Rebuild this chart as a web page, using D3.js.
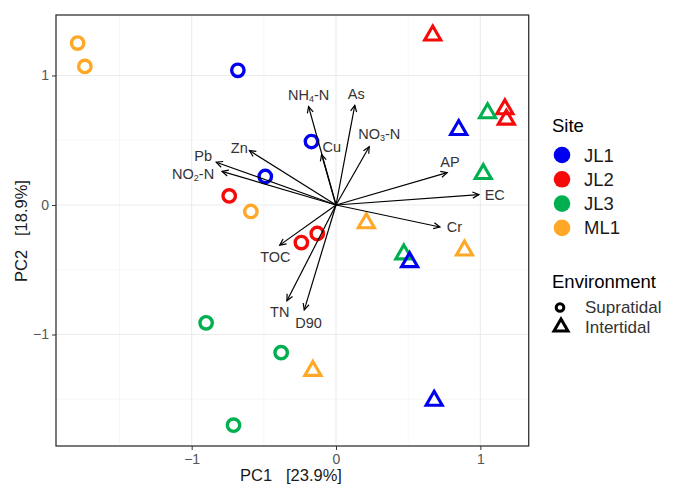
<!DOCTYPE html>
<html>
<head>
<meta charset="utf-8">
<script src="https://cdn.jsdelivr.net/npm/d3@7"></script>
<style>
  body { margin: 0; background: #fff; }
  text { font-family: "Liberation Sans", Arial, sans-serif; }
</style>
</head>
<body>
<div id="chart"></div>
<script>
const width = 677;
const height = 486;

// site / environment groups
const sites = ["JL1", "JL2", "JL3", "ML1"];
const siteColors = ["#0000f0", "#f50a0a", "#00b050", "#ffa726"];
const environments = ["Supratidal", "Intertidal"];

// sample scores
const sampleSite = ["ML1", "ML1", "JL1", "JL1", "JL1", "JL2", "JL2", "JL2", "ML1", "JL3", "JL3", "JL3",
                    "JL2", "JL2", "JL2", "JL3", "JL3", "JL3", "JL1", "JL1", "JL1", "ML1", "ML1", "ML1"];
const sampleEnv = ["Supratidal", "Supratidal", "Supratidal", "Supratidal", "Supratidal", "Supratidal",
                   "Supratidal", "Supratidal", "Supratidal", "Supratidal", "Supratidal", "Supratidal",
                   "Intertidal", "Intertidal", "Intertidal", "Intertidal", "Intertidal", "Intertidal",
                   "Intertidal", "Intertidal", "Intertidal", "Intertidal", "Intertidal", "Intertidal"];
const pc1 = [-1.79, -1.74, -0.68, -0.17, -0.49, -0.74, -0.24, -0.13, -0.59, -0.90, -0.38, -0.71,
             0.67, 1.17, 1.18, 1.05, 1.02, 0.47, 0.85, 0.51, 0.68, 0.21, 0.89, -0.16];
const pc2 = [1.25, 1.07, 1.04, 0.49, 0.22, 0.07, -0.29, -0.22, -0.05, -0.91, -1.14, -1.70,
             1.31, 0.74, 0.66, 0.71, 0.24, -0.38, 0.58, -0.44, -1.51, -0.14, -0.35, -1.28];

// variable loadings (arrow tips) and label anchors
const varNames = ["NH4-N", "Cu", "As", "NO3-N", "AP", "EC", "Cr", "Zn", "Pb", "NO2-N", "TOC", "TN", "D90"];
const loadPC1 = [-0.19, -0.10, 0.13, 0.23, 0.77, 0.99, 0.72, -0.60, -0.83, -0.79, -0.39, -0.34, -0.22];
const loadPC2 = [0.76, 0.39, 0.77, 0.45, 0.25, 0.08, -0.17, 0.42, 0.33, 0.26, -0.31, -0.74, -0.81];
const labelPC1 = [-0.19, -0.03, 0.14, 0.30, 0.79, 1.10, 0.82, -0.67, -0.92, -0.99, -0.42, -0.39, -0.19];
const labelPC2 = [0.85, 0.45, 0.86, 0.55, 0.33, 0.08, -0.17, 0.44, 0.375, 0.24, -0.40, -0.83, -0.91];

const xTicks = [-1, 0, 1];
const yTicks = [-1, 0, 1];

const svg = d3.select("#chart").append("svg")
    .attr("width", width).attr("height", height);

const x = d3.scaleLinear().domain([-1.94, 1.335]).range([56, 528.7]);
const y = d3.scaleLinear().domain([-1.861, 1.467]).range([446, 15]);
const colour = d3.scaleOrdinal().domain(sites).range(siteColors);

// grid
const minorX = d3.range(-1.5, 1.4, 1);
const minorY = d3.range(-1.5, 1.4, 1);
const grid = svg.append("g");
grid.selectAll(".minx").data(minorX).enter().append("line")
    .attr("x1", d => x(d)).attr("x2", d => x(d)).attr("y1", 15).attr("y2", 446)
    .attr("stroke", "#f2f2f2").attr("stroke-width", 0.6);
grid.selectAll(".miny").data(minorY).enter().append("line")
    .attr("y1", d => y(d)).attr("y2", d => y(d)).attr("x1", 56).attr("x2", 528.7)
    .attr("stroke", "#f2f2f2").attr("stroke-width", 0.6);
grid.selectAll(".majx").data(xTicks).enter().append("line")
    .attr("x1", d => x(d)).attr("x2", d => x(d)).attr("y1", 15).attr("y2", 446)
    .attr("stroke", "#ebebeb").attr("stroke-width", 1.1);
grid.selectAll(".majy").data(yTicks).enter().append("line")
    .attr("y1", d => y(d)).attr("y2", d => y(d)).attr("x1", 56).attr("x2", 528.7)
    .attr("stroke", "#ebebeb").attr("stroke-width", 1.1);

// axes
const fmt = d => d < 0 ? "\u2212" + Math.abs(d) : String(d);
const xAxis = svg.append("g").attr("transform", "translate(0,446)")
    .call(d3.axisBottom(x).tickValues(xTicks).tickFormat(fmt).tickSize(4).tickPadding(4));
const yAxis = svg.append("g").attr("transform", "translate(56,0)")
    .call(d3.axisLeft(y).tickValues(yTicks).tickFormat(fmt).tickSize(4).tickPadding(3));
[xAxis, yAxis].forEach(a => {
    a.select(".domain").remove();
    a.selectAll(".tick line").attr("stroke", "#333");
    a.selectAll(".tick text").attr("fill", "#555").style("font-size", "14px");
});

// points
const pts = svg.append("g");
sampleSite.forEach((s, i) => {
    if (sampleEnv[i] === "Supratidal") {
        pts.append("circle")
            .attr("cx", x(pc1[i])).attr("cy", y(pc2[i])).attr("r", 6.2)
            .attr("fill", "none").attr("stroke", colour(s)).attr("stroke-width", 3.4);
    } else {
        pts.append("path")
            .attr("d", d3.symbol().type(d3.symbolTriangle).size(112)())
            .attr("transform", `translate(${x(pc1[i])},${y(pc2[i])})`)
            .attr("fill", "none").attr("stroke", colour(s)).attr("stroke-width", 3.1);
    }
});

// arrows
const ox = x(0), oy = y(0);
const arrows = svg.append("g");
varNames.forEach((v, i) => {
    const tx = x(loadPC1[i]), ty = y(loadPC2[i]);
    const ang = Math.atan2(ty - oy, tx - ox);
    const hl = 7, ha = Math.PI / 7;
    arrows.append("line")
        .attr("x1", ox).attr("y1", oy).attr("x2", tx).attr("y2", ty)
        .attr("stroke", "#000").attr("stroke-width", 1.2);
    arrows.append("path")
        .attr("d", `M${tx - hl * Math.cos(ang - ha)},${ty - hl * Math.sin(ang - ha)} L${tx},${ty} L${tx - hl * Math.cos(ang + ha)},${ty - hl * Math.sin(ang + ha)}`)
        .attr("fill", "none").attr("stroke", "#000").attr("stroke-width", 1.2);
});

// arrow labels (with subscript digits)
varNames.forEach((v, i) => {
    const t = svg.append("text")
        .attr("x", x(labelPC1[i])).attr("y", y(labelPC2[i]))
        .attr("text-anchor", "middle").attr("dominant-baseline", "central")
        .attr("fill", "#333").style("font-size", "14.5px");
    const m = v.match(/^([A-Z]+)(\d)(-N)$/);
    if (m) {
        t.append("tspan").text(m[1]);
        t.append("tspan").text(m[2]).attr("dy", 4).style("font-size", "9px");
        t.append("tspan").text(m[3]).attr("dy", -4);
    } else {
        t.text(v);
    }
});

// panel border
svg.append("rect")
    .attr("x", 56).attr("y", 15).attr("width", 472.7).attr("height", 431)
    .attr("fill", "none").attr("stroke", "#333").attr("stroke-width", 1.3);

// axis titles
svg.append("text").attr("x", 291).attr("y", 481).attr("text-anchor", "middle")
    .attr("fill", "#1a1a1a").style("font-size", "16.5px")
    .attr("xml:space", "preserve").text("PC1   [23.9%]");
svg.append("text").attr("transform", "translate(27,231) rotate(-90)").attr("text-anchor", "middle")
    .attr("fill", "#1a1a1a").style("font-size", "16.5px")
    .attr("xml:space", "preserve").text("PC2   [18.9%]");

// legend: site
const leg = svg.append("g");
leg.append("text").attr("x", 552).attr("y", 131.5).attr("fill", "#000")
    .style("font-size", "18.5px").text("Site");
sites.forEach((s, i) => {
    const cy = 155 + i * 24.3;
    leg.append("circle").attr("cx", 562).attr("cy", cy).attr("r", 8.3).attr("fill", colour(s));
    leg.append("text").attr("x", 584).attr("y", cy).attr("dominant-baseline", "central")
        .attr("fill", "#1a1a1a").style("font-size", "18.5px").text(s);
});

// legend: environment
leg.append("text").attr("x", 552).attr("y", 287.5).attr("fill", "#000")
    .style("font-size", "18.5px").text("Environment");
environments.forEach((e, i) => {
    const cy = 307.5 + i * 19.5;
    if (e === "Supratidal") {
        leg.append("circle").attr("cx", 560).attr("cy", cy).attr("r", 3.8)
            .attr("fill", "none").attr("stroke", "#000").attr("stroke-width", 3);
    } else {
        leg.append("path").attr("d", d3.symbol().type(d3.symbolTriangle).size(85)())
            .attr("transform", `translate(561,${cy})`)
            .attr("fill", "none").attr("stroke", "#000").attr("stroke-width", 3);
    }
    leg.append("text").attr("x", 585).attr("y", cy).attr("dominant-baseline", "central")
        .attr("fill", "#333").style("font-size", "17px").text(e);
});
</script>
</body>
</html>
